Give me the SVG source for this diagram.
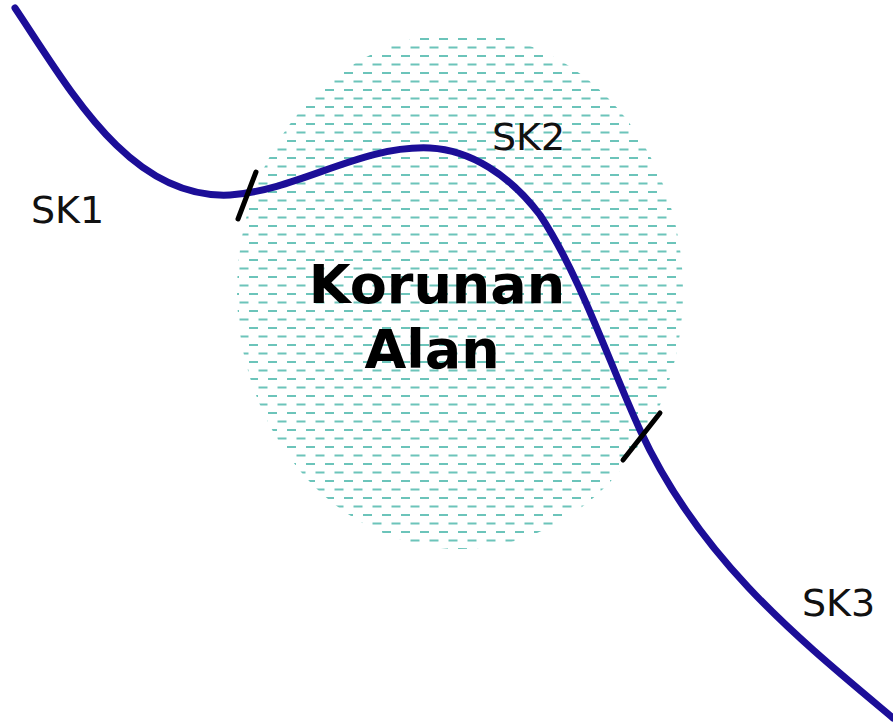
<svg xmlns="http://www.w3.org/2000/svg" width="893" height="722" viewBox="0 0 893 722">
  <style>
    .lbl { font-family: "DejaVu Sans", Verdana, sans-serif; font-size: 38px; fill: #111; }
    .big { font-family: "DejaVu Sans", Verdana, sans-serif; font-size: 54px; font-weight: bold; fill: #000; }
    .route { fill: none; stroke: #1c0e98; stroke-width: 7; stroke-linecap: round; }
    .tick { stroke: #000; stroke-width: 5; stroke-linecap: round; }
  </style>
  <defs>
    <pattern id="dash" x="0" y="35" width="19" height="17" patternUnits="userSpaceOnUse">
      <rect x="2" y="3" width="9" height="2" fill="#6cc4ba"/>
      <rect x="11.5" y="11.5" width="9" height="2" fill="#6cc4ba"/>
      <rect x="-7.5" y="11.5" width="9" height="2" fill="#6cc4ba"/>
    </pattern>
  </defs>
  <rect width="893" height="722" fill="#fff"/>
  <g id="protected-area">
    <ellipse cx="460" cy="291" rx="223" ry="258" fill="url(#dash)"/>
    <text class="big" x="437" y="303" text-anchor="middle">Korunan</text>
    <text class="big" x="432" y="368" text-anchor="middle">Alan</text>
  </g>
  <g id="connectors">
    <path class="route" d="M15,8 C70,90 130,200 230,195 C300,190 360,145 430,148 C470,150 510,175 540,215 C580,275 610,365 640,430 C700,560 800,640 893,718"/>
    <line class="tick" x1="238" y1="219" x2="256" y2="172"/>
    <line class="tick" x1="623" y1="460" x2="660" y2="413"/>
  </g>
  <g id="sk1"><text class="lbl" x="31" y="223">SK1</text></g>
  <g id="sk2"><text class="lbl" x="492" y="150">SK2</text></g>
  <g id="sk3"><text class="lbl" x="802" y="616">SK3</text></g>
</svg>
